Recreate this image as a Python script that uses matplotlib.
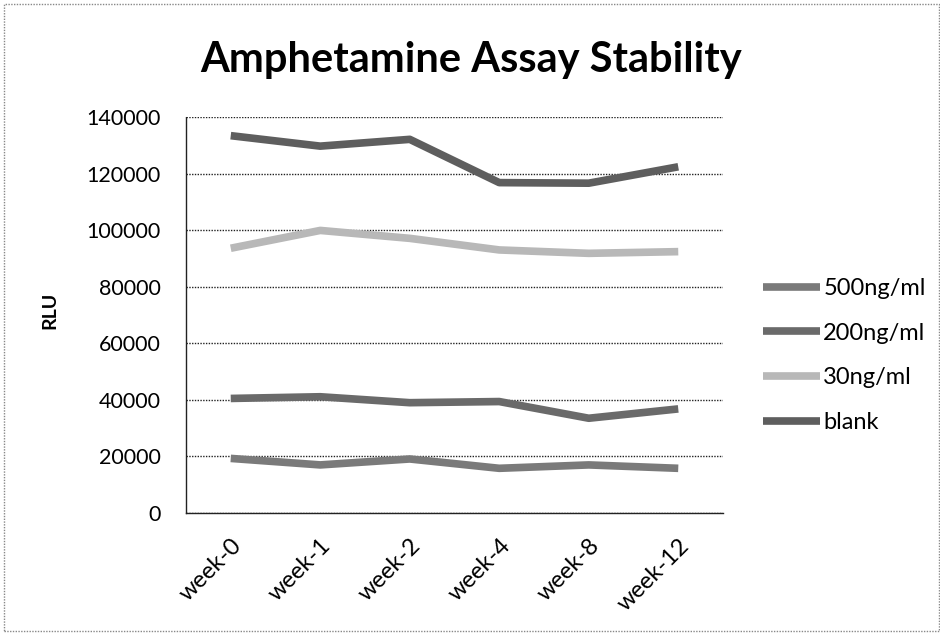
import matplotlib
matplotlib.use("Agg")
import matplotlib.pyplot as plt
from matplotlib.patches import Rectangle

plt.rcParams['font.family'] = ['Lato', 'DejaVu Sans']

weeks = ["week-0", "week-1", "week-2", "week-4", "week-8", "week-12"]
s500 = [19300, 17000, 19100, 15800, 17000, 15800]
s200 = [40500, 41100, 39000, 39400, 33500, 36800]
s30 = [93600, 99900, 97100, 93000, 91800, 92400]
blank = [133400, 129700, 132100, 116800, 116600, 122400]
yticks = [0, 20000, 40000, 60000, 80000, 100000, 120000, 140000]

W, H = 940, 633
fig = plt.figure(figsize=(W / 100, H / 100), dpi=100)
ax = fig.add_axes([186 / W, 1 - 513 / H, (723 - 186) / W, (513 - 117) / H])

x = list(range(len(weeks)))
ax.plot(x, s500, color="#7a7a7a", lw=5.5, label="500ng/ml", solid_capstyle="butt")
ax.plot(x, s200, color="#6a6a6a", lw=5.5, label="200ng/ml", solid_capstyle="butt")
ax.plot(x, s30, color="#b8b8b8", lw=5.5, label="30ng/ml", solid_capstyle="butt")
ax.plot(x, blank, color="#5e5e5e", lw=5.5, label="blank", solid_capstyle="butt")

ax.set_xlim(-0.5, len(weeks) - 0.5)
ax.set_ylim(0, 140000)
ax.set_yticks(yticks)
ax.set_yticklabels([str(v) for v in yticks], fontsize=15.5)
ax.set_xticks(x)
ax.set_xticklabels(weeks, rotation=45, ha="right", rotation_mode="anchor", fontsize=17)
ax.tick_params(axis='y', length=0, pad=18)
ax.tick_params(axis='x', length=0, pad=16)
ax.yaxis.grid(True, linestyle=(0, (1, 1)), color="#222222", lw=1)
ax.set_axisbelow(True)
for side in ["top", "right"]:
    ax.spines[side].set_visible(False)
for side in ["left", "bottom"]:
    ax.spines[side].set_linestyle((0, (1, 1)))
    ax.spines[side].set_color("#222222")
    ax.spines[side].set_linewidth(1)

ax.set_ylabel("RLU", fontsize=14, fontweight="bold")
ax.yaxis.set_label_coords(58 / W, 1 - 310 / H, transform=fig.transFigure)

fig.text(471 / W, 1 - 72 / H, "Amphetamine Assay Stability", ha="center", va="baseline",
         fontsize=30, fontweight="bold")

leg = ax.legend(loc="upper left", bbox_to_anchor=(763 / W, 1 - 278 / H),
                bbox_transform=fig.transFigure, frameon=False, borderpad=0,
                borderaxespad=0, fontsize=17, handlelength=2.4,
                handletextpad=0.15, labelspacing=1.0)

fig.patches.append(Rectangle((0.004, 0.003), 0.995, 0.99, transform=fig.transFigure,
                             fill=False, ls=(0, (1, 1)), ec="#888888", lw=1))

fig.savefig("out.png", dpi=100)
